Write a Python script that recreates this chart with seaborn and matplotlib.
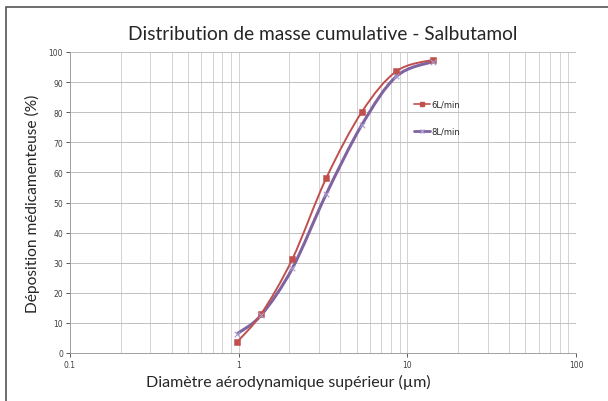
import numpy as np
import matplotlib
matplotlib.use("Agg")
import matplotlib.pyplot as plt
import seaborn as sns
import pandas as pd
from matplotlib.path import Path
from matplotlib.patches import PathPatch, Rectangle
from matplotlib.lines import Line2D

# diametres de coupure (um) et masse cumulative (%)
diametres = [0.98, 1.36, 2.08, 3.30, 5.39, 8.61, 14.1]
debit_6 = [3.7, 13.0, 31.2, 58.0, 80.2, 93.6, 97.4]
debit_8 = [6.4, 12.6, 28.1, 52.7, 75.9, 91.9, 96.8]
etiquettes = ["6L/min", "8L/min"]

rouge = "#C0504D"
violet = "#8064A2"

sns.set_style("white")
plt.rcParams['font.family'] = ['Lato', 'DejaVu Sans']

fig = plt.figure(figsize=(6.08, 4.02), dpi=100)
ax = fig.add_axes([70/608, 48/402, 506/608, 301/402])

df = pd.DataFrame({"x": diametres * 2,
                   "y": debit_6 + debit_8,
                   "serie": [etiquettes[0]] * 7 + [etiquettes[1]] * 7})


def courbe_lisse(xs, ys):
    # courbe de Bezier facon "ligne lissee" d'Excel (espace log x)
    lx = np.log10(xs)
    pts = np.column_stack([lx, ys])
    n = len(pts)
    verts = [pts[0]]
    codes = [Path.MOVETO]
    for i in range(n - 1):
        p0 = pts[max(i - 1, 0)]
        p1 = pts[i]
        p2 = pts[i + 1]
        p3 = pts[min(i + 2, n - 1)]
        c1 = p1 + (p2 - p0) / 6
        c2 = p2 - (p3 - p1) / 6
        verts += [c1, c2, p2]
        codes += [Path.CURVE4] * 3
    verts = np.array(verts)
    verts[:, 0] = 10 ** verts[:, 0]
    return Path(verts, codes)


ax.set_xscale("log")
ax.add_patch(PathPatch(courbe_lisse(diametres, debit_8), fill=False,
                       edgecolor=violet, lw=2.2, zorder=3))
ax.add_patch(PathPatch(courbe_lisse(diametres, debit_6), fill=False,
                       edgecolor=rouge, lw=1.4, zorder=4))

sns.scatterplot(data=df[df.serie == etiquettes[0]], x="x", y="y", ax=ax,
                marker="s", color=rouge, s=22, edgecolor=rouge, zorder=5,
                legend=False)
sns.scatterplot(data=df[df.serie == etiquettes[1]], x="x", y="y", ax=ax,
                marker="x", color="#A89AD0", s=16, linewidth=0.8, zorder=5,
                legend=False)

ax.set_xlim(0.1, 100)
ax.set_ylim(0, 100)
ax.set_yticks(range(0, 101, 10))
ax.set_xticks([0.1, 1, 10, 100])
ax.set_xticklabels(["0.1", "1", "10", "100"])
ax.grid(True, which="both", axis="x", color="#D2D2D2", lw=0.7)
ax.grid(True, which="major", axis="y", color="#C0C0C0", lw=0.7)
ax.tick_params(axis="both", which="major", labelsize=5.5, colors="#404040",
               length=3, width=0.6, direction="out", pad=2)
ax.tick_params(axis="x", which="minor", length=0)
ax.tick_params(axis="y", left=True, labelsize=5.5)
ax.tick_params(axis="x", bottom=True)
for lab in ax.get_xticklabels() + ax.get_yticklabels():
    lab.set_family("DejaVu Sans")
for s in ["top", "right"]:
    ax.spines[s].set_visible(False)
for s in ["left", "bottom"]:
    ax.spines[s].set_color("#A0A0A0")
    ax.spines[s].set_linewidth(0.7)

ax.set_xlabel("Diamètre aérodynamique supérieur (µm)", fontsize=11.5)
ax.xaxis.set_label_coords((288 - 70) / 506, -21 / 301)
ax.set_ylabel("Déposition médicamenteuse (%)", fontsize=11.2)
ax.yaxis.set_label_coords(-30 / 506, 0.5)
fig.text(323/608, 1 - 34/402, "Distribution de masse cumulative - Salbutamol",
         ha="center", va="center", fontsize=13.8)

poignees = [Line2D([], [], color=rouge, lw=1.2, marker="s", markersize=3.5),
            Line2D([], [], color=violet, lw=2, marker="x", markersize=3.5,
                   markeredgecolor="#A89AD0")]
leg = ax.legend(poignees, etiquettes, loc="upper left",
                bbox_to_anchor=(336/506, (354-93)/301), frameon=False,
                fontsize=6, handlelength=2.0, handletextpad=0.2,
                labelspacing=2.2)
for t in leg.get_texts():
    t.set_family("DejaVu Sans")

# cadre du graphique
fig.add_artist(Rectangle((6/608, -0.05), 1.0, 1 - 8/402 + 0.05,
                         transform=fig.transFigure, fill=False,
                         edgecolor="#555555", lw=1.2))

fig.savefig("out.png", dpi=100)
